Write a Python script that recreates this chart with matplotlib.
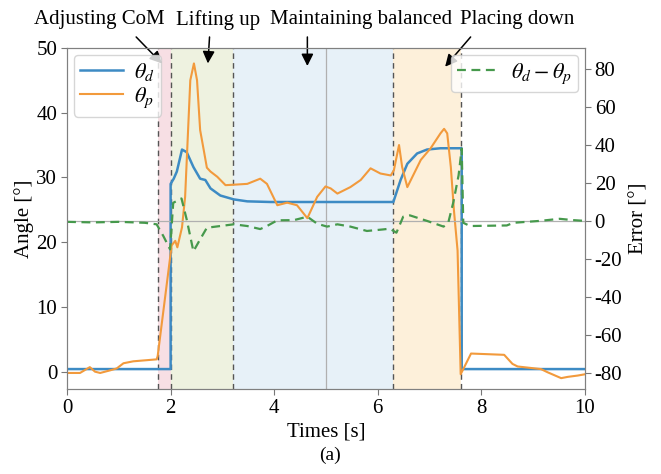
import matplotlib
matplotlib.use("Agg")
import matplotlib.pyplot as plt

plt.rcParams['font.family'] = ['Liberation Serif', 'DejaVu Serif']
plt.rcParams['mathtext.fontset'] = 'stix'
plt.rcParams['axes.unicode_minus'] = False

# ---------------- data ----------------
t_d = [0, 2.0, 2.0, 2.06, 2.12, 2.22, 2.31, 2.44, 2.57, 2.67, 2.77, 2.96, 3.22, 3.48, 3.93,
       6.30, 6.44, 6.57, 6.76, 6.95, 7.21, 7.62, 7.62, 10]
theta_d = [0.4, 0.4, 29.0, 29.8, 30.9, 34.3, 33.9, 31.6, 29.8, 29.6, 28.3, 27.2, 26.6, 26.3, 26.2,
           26.2, 29.6, 32.1, 33.7, 34.3, 34.5, 34.5, 0.4, 0.4]

t_p = [0, 0.25, 0.44, 0.54, 0.64, 0.83, 0.96, 1.09, 1.28, 1.73, 1.75, 2.02, 2.09, 2.13, 2.22,
       2.28, 2.38, 2.45, 2.51, 2.57, 2.64, 2.70, 2.77, 2.90, 3.06, 3.28, 3.48, 3.73, 3.86, 4.06,
       4.25, 4.44, 4.64, 4.83, 4.99, 5.09, 5.22, 5.47, 5.67, 5.86, 6.05, 6.25, 6.31, 6.41, 6.47,
       6.57, 6.70, 6.83, 7.02, 7.21, 7.28, 7.34, 7.41, 7.47, 7.54, 7.60, 7.70, 7.80, 8.44, 8.60,
       8.70, 9.15, 9.28, 9.54, 9.67, 9.86, 10.0]
theta_p = [-0.2, -0.2, 0.7, 0.0, -0.2, 0.2, 0.5, 1.3, 1.6, 1.9, 2.4, 19.5, 20.2, 19.2, 22.3,
           27.0, 45.0, 47.6, 45.0, 37.3, 34.2, 31.5, 30.9, 30.1, 28.8, 28.9, 29.0, 29.8, 29.0, 25.7,
           26.1, 25.7, 23.7, 27.0, 28.6, 28.3, 27.5, 28.5, 29.6, 31.4, 30.6, 30.3, 31.1, 35.0, 31.6,
           28.5, 30.6, 32.7, 34.5, 36.8, 37.5, 36.8, 31.6, 24.9, 18.7, -0.4, 1.2, 2.8, 2.6, 1.2,
           0.8, 0.4, -0.1, -1.0, -0.8, -0.6, -0.4]

t_e = [0, 0.5, 1.0, 1.5, 1.73, 1.86, 1.99, 2.05, 2.21, 2.31, 2.44, 2.57, 2.70, 2.96, 3.22, 3.48,
       3.73, 3.86, 4.06, 4.38, 4.64, 4.83, 5.02, 5.22, 5.47, 5.79, 6.10, 6.23, 6.36, 6.49, 6.62,
       6.95, 7.27, 7.36, 7.46, 7.56, 7.62, 7.65, 7.78, 8.49, 8.62, 9.13, 9.51, 9.77, 10.0]
error = [-0.5, -0.8, -0.5, -1.0, -1.8, -8.0, -15.0, 9.5, 11.8, 0.8, -16.0, -9.7, -3.6, -2.7, -1.8, -2.7,
         -4.3, -2.7, 0.3, 0.4, 2.2, -1.5, -3.0, -1.8, -3.0, -5.3, -4.5, -4.1, -6.2, 2.2, 2.9,
         0.0, -3.0, -1.0, 10.0, 24.0, 38.0, -1.0, -2.7, -2.4, -1.0, 0.0, 1.1, 0.4, 0.0]

phase_bounds = [1.75, 2.0, 3.2, 6.3, 7.6]
phase_colors = ['#f7dfe4', '#eef2e0', '#e7f1f8', '#fdf0da']
phase_names = ['Adjusting CoM', 'Lifting up', 'Maintaining balanced', 'Placing down']
phase_text_x = [0.151, 0.330, 0.546, 0.782]
arrow_tail = [(0.206, 0.922), (0.317, 0.922), (0.465, 0.922), (0.712, 0.922)]
arrow_tip = [(1.83, 47.6), (2.72, 47.6), (4.64, 47.2), (7.30, 47.1)]

# ---------------- figure ----------------
fig = plt.figure(figsize=(6.61, 4.74), dpi=100)
ax = fig.add_axes([0.1014, 0.179, 0.7836, 0.72])
ax2 = ax.twinx()

for i in range(4):
    ax.axvspan(phase_bounds[i], phase_bounds[i + 1], color=phase_colors[i], lw=0, zorder=0)
for b in phase_bounds:
    ax.axvline(b, color='#555555', ls=(0, (4, 3)), lw=1.0, zorder=1)
ax.axvline(5, color='#b0b0b0', lw=0.9, zorder=1)

ax.plot(t_d, theta_d, color='#3d8bc4', lw=1.8, label=r'$\theta_d$', zorder=3)
ax.plot(t_p, theta_p, color='#f29a3c', lw=1.5, label=r'$\theta_p$', zorder=3)

ax2.axhline(0, color='#b0b0b0', lw=0.9, zorder=1)
ax2.plot(t_e, error, color='#46994c', lw=1.6, ls=(0, (4, 2.5)), label=r'$\theta_d-\theta_p$')

ax.set_xlim(0, 10)
ax.set_ylim(-2.7, 50)
ax2.set_ylim(-88.5, 91)
ax.set_xticks([0, 2, 4, 6, 8, 10])
ax.set_yticks([0, 10, 20, 30, 40, 50])
ax2.set_yticks([-80, -60, -40, -20, 0, 20, 40, 60, 80])

for a in (ax, ax2):
    a.tick_params(labelsize=15, color='#777777', length=4, pad=3)
    for s in a.spines.values():
        s.set_color('#808080')

ax.set_xlabel('Times [s]', fontsize=15, labelpad=3)
ax.set_ylabel('Angle [°]', fontsize=15, labelpad=2)
ax2.set_ylabel('Error [°]', fontsize=15, labelpad=5)

leg1 = ax.legend(loc='upper left', fontsize=16, handlelength=1.9, borderpad=0.3,
                 labelspacing=0.1, handletextpad=0.5, borderaxespad=0.3)
leg1.get_frame().set_edgecolor('#cccccc')
leg2 = ax2.legend(loc='upper right', fontsize=16, handlelength=1.9, borderpad=0.3,
                  handletextpad=0.5, borderaxespad=0.3)
leg2.get_frame().set_edgecolor('#cccccc')

for name, tx in zip(phase_names, phase_text_x):
    fig.text(tx, 0.958, name, fontsize=15, ha='center', va='center')
for tail, tip in zip(arrow_tail, arrow_tip):
    ax.annotate('', xy=tip, xycoords='data', xytext=tail, textcoords='figure fraction',
                arrowprops=dict(arrowstyle='-|>', color='black', lw=1.1, mutation_scale=18,
                                shrinkA=0, shrinkB=0),
                annotation_clip=False, zorder=5)

fig.text(0.499, 0.04, '(a)', fontsize=14, ha='center', va='center')

fig.savefig('out.png', dpi=100)
